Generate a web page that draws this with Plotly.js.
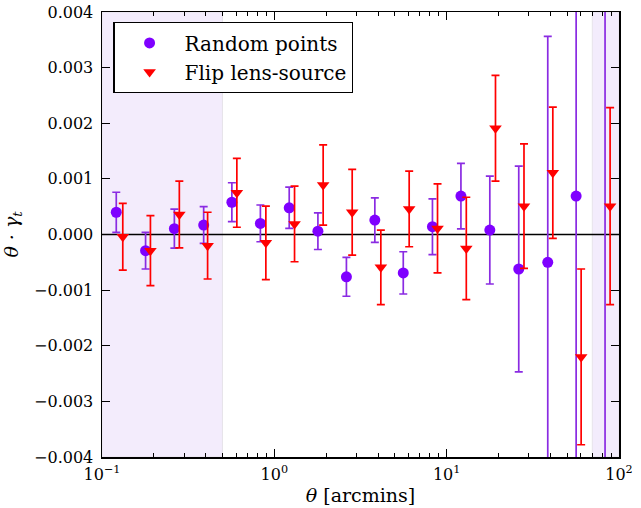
<!DOCTYPE html>
<html>
<head>
<meta charset="utf-8">
<script src="https://cdn.plot.ly/plotly-3.0.1.min.js"></script>
<style>html,body{margin:0;padding:0;background:#fff}#chart{width:641px;height:508px}</style>
</head>
<body>
<div id="chart"></div>
<script>
// Random points
const randTheta = [0.121, 0.179, 0.263, 0.389, 0.567, 0.83, 1.22, 1.79, 2.62, 3.83, 5.6, 8.27, 12.1, 17.8, 26.2, 38.6, 56.4, 83.0];
const randVal   = [0.00040, -0.00029, 0.000105, 0.00017, 0.00058, 0.00020, 0.00048, 0.00006, -0.00076, 0.00026, -0.00069, 0.00014, 0.00069, 0.00008, -0.00062, -0.00050, 0.00069, 0.0060];
const randErr   = [0.00036, 0.00033, 0.00035, 0.00033, 0.00035, 0.00033, 0.00037, 0.00033, 0.00035, 0.00040, 0.00038, 0.00050, 0.00059, 0.00097, 0.00185, 0.00406, 0.0050, 0.0120];
// Flip lens-source
const flipTheta = [0.132, 0.191, 0.281, 0.41, 0.606, 0.893, 1.31, 1.92, 2.83, 4.15, 6.06, 8.85, 13.0, 19.2, 28.1, 41.3, 60.3, 88.8];
const flipVal   = [-0.00004, -0.00029, 0.00036, -0.00020, 0.00075, -0.00015, 0.00019, 0.00089, 0.00040, -0.00059, 0.00046, 0.00011, -0.00025, 0.00191, 0.00051, 0.00111, -0.00220, 0.00051];
const flipErr   = [0.00060, 0.00063, 0.00060, 0.00060, 0.00062, 0.00066, 0.00068, 0.00072, 0.00077, 0.00067, 0.00068, 0.00080, 0.00092, 0.00095, 0.00112, 0.00118, 0.00158, 0.00177];

const xTickVals = [0.1, 1, 10, 100];
const xTickText = ['10<sup>\u22121</sup>', '10<sup>0</sup>', '10<sup>1</sup>', '10<sup>2</sup>'];
const yTickVals = [-0.004, -0.003, -0.002, -0.001, 0, 0.001, 0.002, 0.003, 0.004];
const shadeLow = [0.1, 0.5];
const shadeHigh = [70, 100];

const purple = '#7f00ff';
const red = '#ff0000';
const FONT = '"DejaVu Serif", serif';

const traces = [
  {
    x: randTheta, y: randVal, type: 'scatter', mode: 'markers', name: 'Random points',
    marker: {color: purple, size: 11, symbol: 'circle'},
    error_y: {type: 'data', array: randErr, visible: true, color: '#8a2be2', thickness: 1.7, width: 4},
    cliponaxis: true
  },
  {
    x: flipTheta, y: flipVal, type: 'scatter', mode: 'markers', name: 'Flip lens-source',
    marker: {color: red, size: 11, symbol: 'triangle-down'},
    error_y: {type: 'data', array: flipErr, visible: true, color: red, thickness: 1.7, width: 4},
    cliponaxis: true
  }
];

const layout = {
  width: 641, height: 508,
  margin: {l: 101.5, r: 21.5, t: 12, b: 51, pad: 0},
  paper_bgcolor: '#fff', plot_bgcolor: '#fff',
  font: {family: FONT, size: 15, color: '#000'},
  showlegend: true,
  legend: {
    x: 0.022, y: 0.977, xanchor: 'left', yanchor: 'top',
    bgcolor: '#fff', bordercolor: '#000', borderwidth: 1.2,
    font: {family: FONT, size: 20, color: '#000'},
    tracegroupgap: 4, itemwidth: 60
  },
  xaxis: {
    type: 'log', range: [-1, 2],
    tickvals: xTickVals, ticktext: xTickText,
    ticks: 'inside', ticklen: 8, tickwidth: 1, tickcolor: '#000',
    minor: {ticks: 'inside', ticklen: 4, tickwidth: 1, tickcolor: '#000', dtick: 'D1', showgrid: false},
    showgrid: false, zeroline: false,
    showline: true, linecolor: '#000', linewidth: 1.5, mirror: 'allticks',
    tickfont: {family: FONT, size: 16}, ticklabelstandoff: 2,
    title: {text: '<i>\u03b8</i> [arcmins]', font: {family: FONT, size: 19}, standoff: 6}
  },
  yaxis: {
    range: [-0.004, 0.004],
    tickvals: yTickVals, tickformat: '.3f',
    ticks: 'inside', ticklen: 8, tickwidth: 1, tickcolor: '#000',
    showgrid: false, zeroline: false,
    showline: true, linecolor: '#000', linewidth: 1.5, mirror: 'allticks',
    tickfont: {family: FONT, size: 16}, ticklabelstandoff: 4,
    title: {text: '<i>\u03b8 \u00b7 \u03b3<sub>t</sub></i>', font: {family: FONT, size: 19}, standoff: 10}
  },
  shapes: [
    {type: 'rect', xref: 'x', yref: 'paper', x0: shadeLow[0], x1: shadeLow[1], y0: 0, y1: 1,
     fillcolor: '#f3ecfc', line: {color: '#e6e3ea', width: 1}, layer: 'below'},
    {type: 'rect', xref: 'x', yref: 'paper', x0: shadeHigh[0], x1: shadeHigh[1], y0: 0, y1: 1,
     fillcolor: '#f3ecfc', line: {color: '#e6e3ea', width: 1}, layer: 'below'},
    {type: 'line', xref: 'paper', yref: 'y', x0: 0, x1: 1, y0: 0, y1: 0,
     line: {color: '#000', width: 1.5}, layer: 'below'}
  ]
};

Plotly.newPlot('chart', traces, layout, {displayModeBar: false, staticPlot: true});
</script>
</body>
</html>
